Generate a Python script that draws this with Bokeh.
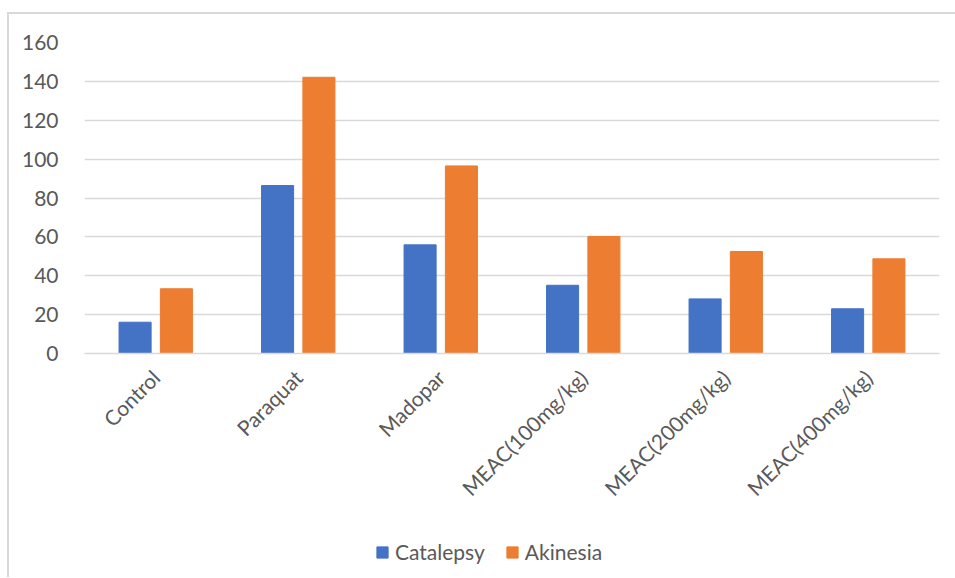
import math
from bokeh.plotting import figure
from bokeh.layouts import column
from bokeh.models import ColumnDataSource, Range1d, FixedTicker, Legend, LegendItem
from bokeh.transform import dodge
from bokeh.embed import file_html
from bokeh.resources import INLINE

categories = ["Control", "Paraquat", "Madopar", "MEAC(100mg/kg)", "MEAC(200mg/kg)", "MEAC(400mg/kg)"]
catalepsy = [16.1, 86.4, 55.9, 35.1, 28.1, 23.0]
akinesia = [33.3, 142.1, 96.5, 60.2, 52.5, 48.7]
y_ticks = [0, 20, 40, 60, 80, 100, 120, 140, 160]
series_names = ["Catalepsy", "Akinesia"]
series_colors = ["#4472C4", "#ED7D31"]

FONT = "Lato"
TXT = "#595959"
GRID = "#d9d9d9"

src = ColumnDataSource(dict(cat=categories, catalepsy=catalepsy, akinesia=akinesia))

p = figure(x_range=categories, y_range=Range1d(0, 160), width=946, height=511,
           output_backend="svg", toolbar_location=None,
           min_border_left=75, min_border_top=28, min_border_right=16, min_border_bottom=172)
p.outline_line_color = None
p.background_fill_color = "white"
p.border_fill_color = "white"

p.vbar(x=dodge("cat", -0.145, range=p.x_range), top="catalepsy", width=0.225,
       source=src, fill_color=series_colors[0], line_color=series_colors[0])
p.vbar(x=dodge("cat", 0.145, range=p.x_range), top="akinesia", width=0.225,
       source=src, fill_color=series_colors[1], line_color=series_colors[1])

p.xgrid.grid_line_color = None
p.ygrid.grid_line_color = GRID
p.ygrid.grid_line_width = 1.5
p.yaxis.ticker = FixedTicker(ticks=y_ticks)

for ax in (p.xaxis[0], p.yaxis[0]):
    ax.major_tick_line_color = None
    ax.minor_tick_line_color = None
    ax.major_label_text_font = FONT
    ax.major_label_text_font_size = "21px"
    ax.major_label_text_color = TXT
p.yaxis.axis_line_color = None
p.yaxis.major_label_standoff = 20
p.xaxis.axis_line_color = GRID
p.xaxis.axis_line_width = 1.5
p.xaxis.major_label_orientation = math.pi / 4
p.xaxis.major_label_standoff = 14

# legend strip below the chart (swatch glyphs sit outside the visible range)
lg = figure(width=946, height=52, x_range=Range1d(0, 1), y_range=Range1d(0, 1),
            output_backend="svg", toolbar_location=None,
            x_axis_type=None, y_axis_type=None,
            min_border_left=0, min_border_right=0, min_border_top=0, min_border_bottom=0)
lg.outline_line_color = None
lg.xgrid.grid_line_color = None
lg.ygrid.grid_line_color = None
items = []
for name, col in zip(series_names, series_colors):
    r = lg.vbar(x=[-10], top=[-10], width=0.1, fill_color=col, line_color=col)
    items.append(LegendItem(label=name, renderers=[r]))

legend = Legend(items=items, orientation="horizontal", location=(291, 13),
                label_text_font=FONT, label_text_font_size="21px", label_text_color=TXT,
                glyph_width=14, glyph_height=14, label_standoff=6, spacing=20,
                border_line_color=None, background_fill_alpha=0, margin=0, padding=0)
lg.add_layout(legend, "center")

layout = column(p, lg, spacing=0)
layout.margin = (12, 0, 0, 7)
layout.styles = {"border-top": "2px solid #d9d9d9", "border-left": "2px solid #d9d9d9"}

open("out.html", "w").write(file_html(layout, INLINE))
